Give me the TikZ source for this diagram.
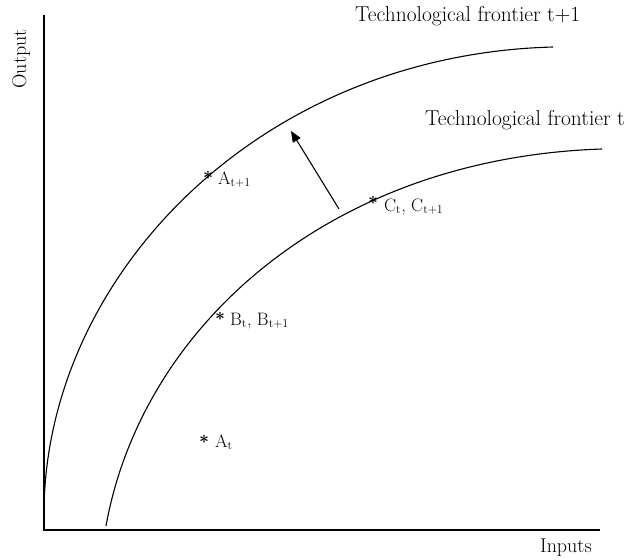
\documentclass[tikz,border=0pt]{standalone}
\usetikzlibrary{arrows.meta}
\begin{document}
\begin{tikzpicture}[x=1pt,y=-1pt,
  txt/.style={font=\fontsize{21.5}{25}\selectfont, inner sep=0pt},
  axlabel/.style={font=\fontsize{20}{23}\selectfont, inner sep=0pt},
  curve/.style={line width=1.1pt},
  axis/.style={line width=1.5pt},
  starmark/.style={font=\fontsize{16}{16}\selectfont\boldmath, inner sep=0pt},
  ptlabel/.style={font=\fontsize{18}{21}\selectfont, inner sep=0pt, anchor=base west}]
\useasboundingbox (0,0) rectangle (627,560);
% axes
\coordinate (ytop) at (44,15);
\coordinate (orig) at (44,530);
\coordinate (xend) at (600,530);
\draw[axis] (ytop) -- (orig) -- (xend);
\node[axlabel, rotate=90] (output) at (21,59) {Output};
\node[axlabel, anchor=base west] (inputs) at (540,552) {Inputs};
% frontiers
\coordinate (o0) at (44,514);
\coordinate (o1) at (553,47);
\coordinate (i0) at (106,526);
\coordinate (i1) at (602,149);
\draw[curve] (o0) .. controls (44,280) and (255,55) .. (o1);
\draw[curve] (i0) .. controls (142,326) and (330,158) .. (i1);
\node[txt, anchor=base west] (ft1) at (355,21) {Technological frontier t+1};
\node[txt, anchor=base west] (ft) at (425,125) {Technological frontier t};
% shift arrow
\coordinate (arrtail) at (339,209);
\coordinate (arrhead) at (291,131);
\draw[line width=1.1pt, -{Triangle[length=11pt,width=9pt]}] (arrtail) -- (arrhead);
% points
\node[starmark] (sA1) at (208,175) {$\ast$};
\node[ptlabel] (lA1) at (218,184) {A$_{\mathrm{t+1}}$};
\node[starmark] (sB) at (220,316) {$\ast$};
\node[ptlabel] (lB) at (230,325) {B$_{\mathrm{t}}$, B$_{\mathrm{t+1}}$};
\node[starmark] (sC) at (373,200) {$\ast$};
\node[ptlabel] (lC) at (384,211) {C$_{\mathrm{t}}$, C$_{\mathrm{t+1}}$};
\node[starmark] (sA) at (204,439) {$\ast$};
\node[ptlabel] (lA) at (215,447) {A$_{\mathrm{t}}$};
\end{tikzpicture}
\end{document}
